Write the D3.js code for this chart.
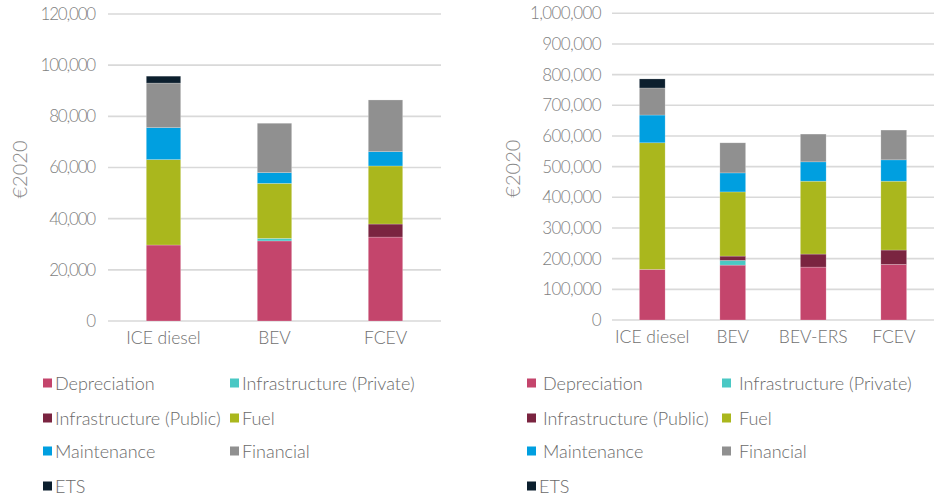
<!DOCTYPE html>
<html>
<head>
<meta charset="utf-8">
<script src="https://cdn.jsdelivr.net/npm/d3@7"></script>
<style>
  html, body { margin: 0; padding: 0; background: #fff; }
  svg { display: block; }
  text { font-family: Lato, "Open Sans", sans-serif; font-weight: 300; }
</style>
</head>
<body>
<svg id="chart" width="934" height="497"></svg>
<script>
// Cost components, bottom to top of each stack
const seriesNames = ["Depreciation", "Infrastructure (Private)", "Infrastructure (Public)", "Fuel", "Maintenance", "Financial", "ETS"];
const seriesColors = ["#c4456c", "#4ac8c4", "#7a2440", "#aab71d", "#009fe0", "#909090", "#0c1f2e"];

// Passenger car (left panel)
const carCategories = ["ICE diesel", "BEV", "FCEV"];
const carDepreciation = [29700, 31300, 32800];
const carInfraPrivate = [0, 1000, 0];
const carInfraPublic = [0, 0, 5100];
const carFuel = [33400, 21500, 22700];
const carMaintenance = [12500, 4200, 5600];
const carFinancial = [17400, 19300, 20200];
const carETS = [2700, 0, 0];
const carTicks = [0, 20000, 40000, 60000, 80000, 100000, 120000];

// Heavy truck (right panel)
const truckCategories = ["ICE diesel", "BEV", "BEV-ERS", "FCEV"];
const truckDepreciation = [165000, 179000, 172500, 181400];
const truckInfraPrivate = [0, 15300, 0, 0];
const truckInfraPublic = [0, 14100, 42500, 46700];
const truckFuel = [412800, 209200, 237600, 224500];
const truckMaintenance = [90500, 62000, 63100, 69600];
const truckFinancial = [88200, 98100, 90500, 97100];
const truckETS = [29500, 0, 0, 0];
const truckTicks = [0, 100000, 200000, 300000, 400000, 500000, 600000, 700000, 800000, 900000, 1000000];

const svg = d3.select("#chart");
const fmt = v => v === 0 ? "0" : d3.format(",")(v);

function buildRows(categories, cols) {
  return categories.map((c, i) => {
    const row = { category: c };
    seriesNames.forEach((s, k) => { row[s] = cols[k][i]; });
    return row;
  });
}

function drawPanel(cfg) {
  const g = svg.append("g");
  const x = d3.scaleBand().domain(cfg.categories).range([cfg.x0, cfg.x1]);
  const y = d3.scaleLinear().domain([0, cfg.max]).range([cfg.y0, cfg.yTop]);

  // horizontal gridlines
  g.append("g").selectAll("line").data(cfg.ticks).join("line")
    .attr("x1", cfg.x0).attr("x2", cfg.x1)
    .attr("y1", d => y(d)).attr("y2", d => y(d))
    .attr("stroke", "#d9d9d9").attr("stroke-width", 1.6);

  // y tick labels
  const yAxis = d3.axisLeft(y).tickValues(cfg.ticks).tickFormat(fmt).tickSize(0).tickPadding(0);
  const ya = g.append("g").attr("transform", `translate(${cfg.labelRight},0)`).call(yAxis);
  ya.select(".domain").remove();
  ya.selectAll("text")
    .attr("fill", "#7f7f7f").style("font-size", "17px").style("letter-spacing", cfg.tickSpacing)
    .style("font-family", "Lato, sans-serif").style("font-weight", 300);

  // x category labels
  const xAxis = d3.axisBottom(x).tickSize(0).tickPadding(0);
  const xa = g.append("g").attr("transform", `translate(0,${cfg.y0 + 11})`).call(xAxis);
  xa.select(".domain").remove();
  xa.selectAll("text")
    .attr("fill", "#6f6f6f").style("font-size", "17.5px").style("letter-spacing", "0px")
    .style("font-family", "Lato, sans-serif").style("font-weight", 300);

  // y axis title
  g.append("text")
    .attr("transform", `translate(${cfg.titleX},${(cfg.y0 + cfg.yTop) / 2 + 2}) rotate(-90)`)
    .attr("text-anchor", "middle").attr("dominant-baseline", "middle")
    .attr("fill", "#8a8a8a").style("font-size", "20px")
    .text("€2020");

  // stacked bars
  const rows = buildRows(cfg.categories, cfg.cols);
  const stack = d3.stack().keys(seriesNames)(rows);
  const bw = x.bandwidth() * cfg.barFrac;
  g.append("g").selectAll("g").data(stack).join("g")
    .attr("fill", (d, i) => seriesColors[i])
    .selectAll("rect").data(d => d.filter(p => p[1] > p[0])).join("rect")
      .attr("x", d => x(d.data.category) + (x.bandwidth() - bw) / 2)
      .attr("width", bw)
      .attr("y", d => y(d[1]))
      .attr("height", d => y(d[0]) - y(d[1]))
      .attr("stroke", "#ffffff").attr("stroke-opacity", 0.35).attr("stroke-width", 0.6);

  // legend, two columns
  const lg = g.append("g");
  const rowsY = [383, 418, 451, 486];
  seriesNames.forEach((s, i) => {
    const col = i % 2, r = Math.floor(i / 2);
    const sx = cfg.legX[col];
    const tx = i === 6 ? cfg.etsTextX : cfg.legTextX[col];
    const item = lg.append("g");
    item.append("rect").attr("x", sx).attr("y", rowsY[r] - 4.5).attr("width", 9).attr("height", 9)
      .attr("fill", seriesColors[i]);
    item.append("text").attr("x", tx).attr("y", rowsY[r])
      .attr("dominant-baseline", "central")
      .attr("fill", "#6a6a6a").style("font-size", "18px").style("letter-spacing", "0px")
      .text(s);
  });
}

drawPanel({
  categories: carCategories,
  cols: [carDepreciation, carInfraPrivate, carInfraPublic, carFuel, carMaintenance, carFinancial, carETS],
  ticks: carTicks, max: 120000,
  x0: 108, x1: 441, y0: 321, yTop: 14,
  labelRight: 95, titleX: 22, barFrac: 0.31, tickSpacing: "-1.2px",
  legX: [43, 230], legTextX: [55, 242], etsTextX: 55
});

drawPanel({
  categories: truckCategories,
  cols: [truckDepreciation, truckInfraPrivate, truckInfraPublic, truckFuel, truckMaintenance, truckFinancial, truckETS],
  ticks: truckTicks, max: 1000000,
  x0: 612, x1: 934, y0: 320, yTop: 13.3,
  labelRight: 601, titleX: 515, barFrac: 0.32, tickSpacing: "-0.6px",
  legX: [527, 722], legTextX: [543, 739], etsTextX: 539
});
</script>
</body>
</html>
